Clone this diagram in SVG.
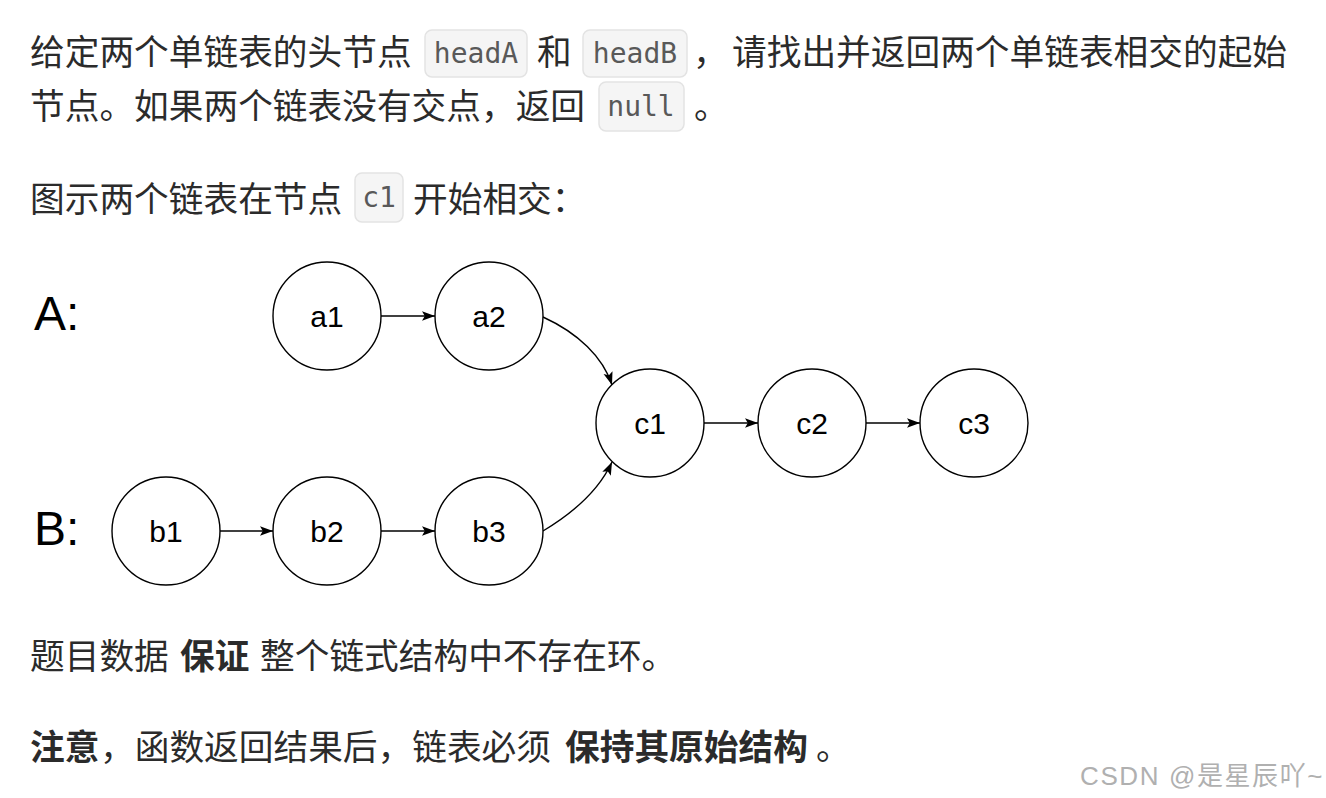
<svg xmlns="http://www.w3.org/2000/svg" width="1326" height="798" viewBox="0 0 1326 798">
<style>
.t{font-family:"Noto Sans CJK SC","Noto Sans",sans-serif;font-size:34.7px;fill:#2b2b2b}
.b{font-weight:bold}
.code{font-family:"DejaVu Sans Mono","Liberation Mono",monospace;font-size:28px;fill:#595959}
.cb{fill:#f5f5f5;stroke:#e3e3e3;stroke-width:1.5}
.lbl{font-family:"Liberation Sans",Arial,sans-serif;font-size:48px;fill:#000}
.node circle{fill:#fff;stroke:#000;stroke-width:1.4}
.node text{font-family:"Liberation Sans",Arial,sans-serif;font-size:30px;fill:#000;text-anchor:middle}
.edge{fill:none;stroke:#000;stroke-width:1.4;marker-end:url(#ah)}
.wm{font-family:"Liberation Sans","Noto Sans CJK SC",sans-serif;font-size:26px;letter-spacing:1.6px;fill:#b0b0b0}
</style>
<defs>
<marker id="ah" viewBox="0 0 13 11" refX="13" refY="5.5" markerWidth="13" markerHeight="11" markerUnits="userSpaceOnUse" orient="auto">
<path d="M0,0.8 L13,5.5 L0,10.2 L2.8,5.5 Z" fill="#000"/>
</marker>
</defs>
<rect width="1326" height="798" fill="#fff"/>

<g id="intro">
<rect class="cb" x="425" y="30" width="102" height="47" rx="7"/>
<rect class="cb" x="583" y="30" width="104" height="47" rx="7"/>
<rect class="cb" x="599" y="82" width="85" height="49" rx="7"/>
<text class="t" x="30" y="65">给定两个单链表的头节点</text>
<text class="code" x="476" y="63" text-anchor="middle">headA</text>
<text class="t" x="537" y="65">和</text>
<text class="code" x="635" y="63" text-anchor="middle">headB</text>
<text class="t" x="693" y="65">，</text>
<text class="t" x="732" y="65">请找出并返回两个单链表相交的起始</text>
<text class="t" x="30" y="119">节点。如果两个链表没有交点，返回</text>
<text class="code" x="641" y="116" text-anchor="middle">null</text>
<text class="t" x="694" y="119">。</text>
</g>

<g id="caption">
<rect class="cb" x="355" y="173" width="48" height="49" rx="7"/>
<text class="t" x="30" y="212">图示两个链表在节点</text>
<text class="code" x="379" y="207" text-anchor="middle">c1</text>
<text class="t" x="413" y="212">开始相交：</text>
</g>

<g id="labels">
<text class="lbl" x="34" y="330">A:</text>
<text class="lbl" x="34" y="545">B:</text>
</g>

<g id="edges">
<path class="edge" d="M381,316 L435,316"/>
<path class="edge" d="M543,317 C578,333 603,357 612,385"/>
<path class="edge" d="M543,531 C578,510 600,488 612,462"/>
<path class="edge" d="M704,423 L758,423"/>
<path class="edge" d="M866,423 L920,423"/>
<path class="edge" d="M220,531 L273,531"/>
<path class="edge" d="M381,531 L435,531"/>
</g>

<g id="a1" class="node"><circle cx="327" cy="316" r="54"/><text x="327" y="327">a1</text></g>
<g id="a2" class="node"><circle cx="489" cy="316" r="54"/><text x="489" y="327">a2</text></g>
<g id="c1" class="node"><circle cx="650" cy="423" r="54"/><text x="650" y="434">c1</text></g>
<g id="c2" class="node"><circle cx="812" cy="423" r="54"/><text x="812" y="434">c2</text></g>
<g id="c3" class="node"><circle cx="974" cy="423" r="54"/><text x="974" y="434">c3</text></g>
<g id="b1" class="node"><circle cx="166" cy="531" r="54"/><text x="166" y="542">b1</text></g>
<g id="b2" class="node"><circle cx="327" cy="531" r="54"/><text x="327" y="542">b2</text></g>
<g id="b3" class="node"><circle cx="489" cy="531" r="54"/><text x="489" y="542">b3</text></g>

<g id="notes">
<text class="t" x="30" y="669">题目数据</text>
<text class="t b" x="180" y="669">保证</text>
<text class="t" x="260" y="669">整个链式结构中不存在环。</text>
<text class="t b" x="30" y="760">注意</text>
<text class="t" x="100" y="760">，函数返回结果后，链表必须</text>
<text class="t b" x="565" y="760">保持其原始结构</text>
<text class="t" x="816" y="760">。</text>
</g>

<text class="wm" x="1080" y="785">CSDN @是星辰吖~</text>
</svg>
